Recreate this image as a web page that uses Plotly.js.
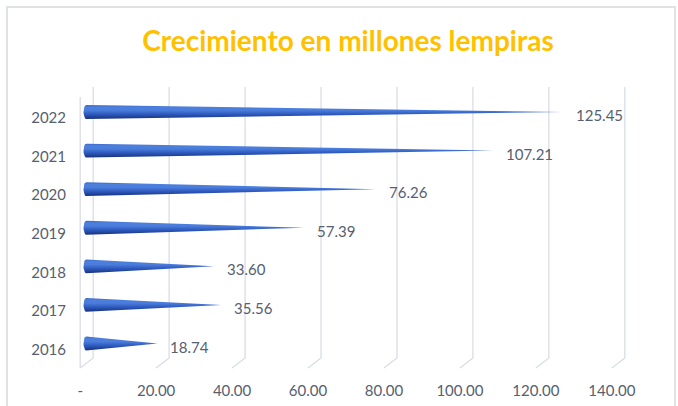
<!DOCTYPE html>
<html>
<head>
<meta charset="utf-8">
<script src="https://cdn.plot.ly/plotly-3.0.1.min.js"></script>
<style>
  html, body { margin: 0; padding: 0; background: #ffffff; }
  #wrap { position: relative; width: 678px; height: 406px; overflow: hidden; }
  #chart { width: 678px; height: 406px; }
  #frame { position: absolute; left: 6px; top: 6px; width: 670px; height: 420px;
           border: 2px solid #dfe3e8; pointer-events: none; box-sizing: border-box; }
</style>
</head>
<body>
<div id="wrap">
  <div id="chart"></div>
  <div id="frame"></div>
</div>
<script>
// ---- data ----
const years  = ['2016', '2017', '2018', '2019', '2020', '2021', '2022'];
const values = [18.74, 35.56, 33.60, 57.39, 76.26, 107.21, 125.45];
const xTickVals = [0, 20, 40, 60, 80, 100, 120, 140];
const titleText = 'Crecimiento en millones lempiras';

// ---- styling / geometry ----
const labelColor = '#56606f';
const gridColor = '#d9dde5';
const fontFam = 'Lato, "Open Sans", sans-serif';
const halfH = 0.18;      // cone half height (category units)
const baseW = 0.7;       // rounded base bulge (value units)

const traces = [];
values.forEach((v, i) => {
  const xs = [], ys = [];
  for (let k = 0; k <= 12; k++) {
    const t = Math.PI / 2 + Math.PI * k / 12;
    xs.push(baseW * Math.cos(t));
    ys.push(i + halfH * Math.sin(t));
  }
  xs.push(v); ys.push(i);
  xs.push(xs[0]); ys.push(ys[0]);
  traces.push({
    type: 'scatter', mode: 'lines', x: xs, y: ys,
    fill: 'toself',
    fillgradient: {
      type: 'vertical',
      colorscale: [[0, '#18317a'], [0.3, '#2a55b8'], [0.62, '#4a7cdc'], [0.85, '#4d7fdd'], [1, '#3b68c9']]
    },
    line: { width: 0, color: '#2f5cc0' },
    hoverinfo: 'skip', showlegend: false
  });
});

const annotations = values.map((v, i) => ({
  x: v, y: i, xref: 'x', yref: 'y',
  text: v.toFixed(2), showarrow: false,
  xanchor: 'left', yanchor: 'middle', xshift: 11, yshift: -3,
  font: { family: fontFam, size: 15, color: labelColor }
}));

const plotTop = 87, plotBottom = 358;
const plotH = plotBottom - plotTop;
const shapes = xTickVals.map(v => ({
  type: 'path', xref: 'x', yref: 'paper',
  xsizemode: 'pixel', ysizemode: 'pixel', xanchor: v, yanchor: 0,
  path: 'M 7,' + plotH + ' L 7,0 L -6,-10',
  line: { color: gridColor, width: 1.3 }, layer: 'below'
}));
shapes.push({
  type: 'path', xref: 'x', yref: 'paper',
  xsizemode: 'pixel', ysizemode: 'pixel', xanchor: xTickVals[0], yanchor: 0,
  path: 'M -6,-10 L -6,' + (plotH - 10),
  line: { color: gridColor, width: 1.3 }, layer: 'below'
});

const xRange = [-4, 144];
const pxPerUnit = 3.8;
const left = 86 + xRange[0] * pxPerUnit;
const right = 678 - (left + (xRange[1] - xRange[0]) * pxPerUnit);

const layout = {
  width: 678, height: 406,
  margin: { l: left, r: right, t: plotTop, b: 406 - plotBottom, pad: 0 },
  paper_bgcolor: '#ffffff', plot_bgcolor: 'rgba(0,0,0,0)',
  title: {
    text: titleText, x: 348 / 678, xanchor: 'center', xref: 'container',
    y: 1 - 41 / 406, yanchor: 'middle', yref: 'container',
    font: { family: fontFam, size: 28, color: '#FFC000', weight: 'bold' }
  },
  xaxis: {
    range: xRange, tickvals: xTickVals,
    ticktext: xTickVals.map(v => v === 0 ? '-' : v.toFixed(2)),
    showgrid: false, zeroline: false, showline: false, ticks: '',
    ticklabelstandoff: 22, ticklabelshift: -6,
    tickfont: { family: fontFam, size: 15, color: labelColor }
  },
  yaxis: {
    range: [-(plotBottom - 343.5) / 38.58, 6 + (112 - plotTop) / 38.58],
    tickvals: years.map((y, i) => i), ticktext: years,
    showgrid: false, zeroline: false, showline: false, ticks: '',
    ticklabelstandoff: 4, ticklabelshift: 6,
    tickfont: { family: fontFam, size: 15, color: labelColor }
  },
  shapes: shapes,
  annotations: annotations,
  showlegend: false
};

Plotly.newPlot('chart', traces, layout, { displayModeBar: false, staticPlot: true });
</script>
</body>
</html>
